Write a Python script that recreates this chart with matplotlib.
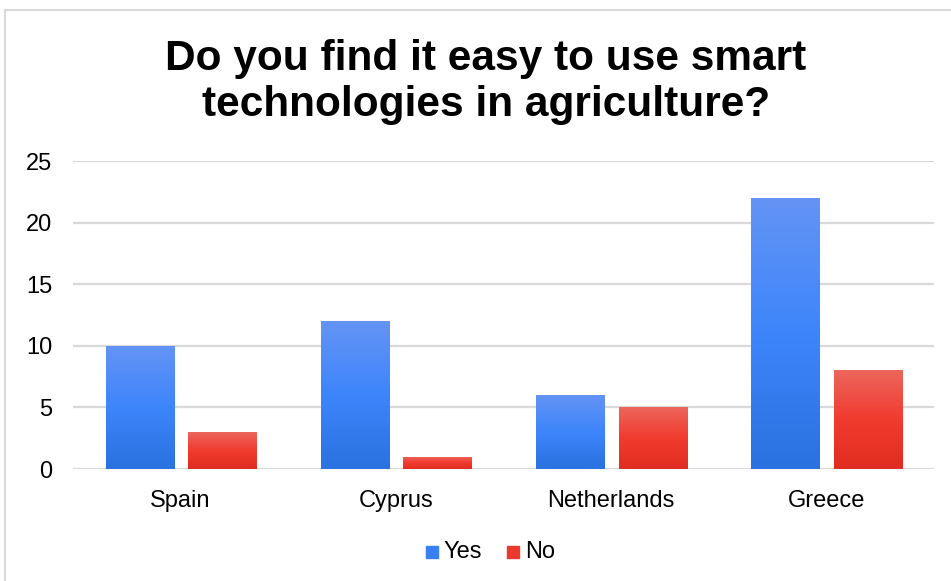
import matplotlib.pyplot as plt
from matplotlib.colors import LinearSegmentedColormap
from matplotlib.patches import Rectangle
import numpy as np

plt.rcParams['font.family'] = ['Liberation Sans', 'DejaVu Sans']

countries = ['Spain', 'Cyprus', 'Netherlands', 'Greece']
yes_vals = [10, 12, 6, 22]
no_vals = [3, 1, 5, 8]
y_ticks = [0, 5, 10, 15, 20, 25]

blue_cmap = LinearSegmentedColormap.from_list('b', ['#2a72e0', '#3d85fb', '#6494f4'])
red_cmap = LinearSegmentedColormap.from_list('r', ['#e02d1f', '#f13b2f', '#ec665c'])

fig = plt.figure(figsize=(9.51, 5.81), dpi=100)
ax = fig.add_axes([73 / 951, 1 - 469 / 581, 861 / 951, 308 / 581])

# gradient-filled bars
def grad_bar(x, h, w, cmap):
    grad = np.linspace(0, 1, 256).reshape(-1, 1)
    im = ax.imshow(grad, cmap=cmap, origin='lower', aspect='auto',
                   extent=[x - w / 2, x + w / 2, 0, h], zorder=3)
    rect = Rectangle((x - w / 2, 0), w, h, transform=ax.transData)
    im.set_clip_path(rect)

w = 0.316
xs = np.arange(len(countries))
for i in range(len(countries)):
    grad_bar(xs[i] - 0.19, yes_vals[i], w, blue_cmap)
    grad_bar(xs[i] + 0.193, no_vals[i], w, red_cmap)

ax.set_xlim(-0.5, len(countries) - 0.5)
ax.set_ylim(0, 25)
ax.set_yticks(y_ticks)
ax.set_xticks(xs)
ax.set_xticklabels(countries)
ax.tick_params(length=0, labelsize=17, colors='#000000')
ax.tick_params(axis='y', pad=15)
ax.tick_params(axis='x', pad=15)
ax.yaxis.grid(True, color='#d9d9d9', linewidth=1.6, zorder=0)
ax.set_axisbelow(True)
for s in ax.spines.values():
    s.set_visible(False)

fig.text(486 / 951, 1 - 82 / 581,
         'Do you find it easy to use smart\ntechnologies in agriculture?',
         ha='center', va='center', fontsize=30.5, fontweight='bold',
         linespacing=1.2)

# legend
lx = [426, 507]
labels = ['Yes', 'No']
cols = ['#3a80f5', '#ea3a2e']
for i in range(2):
    fig.patches.append(Rectangle((lx[i] / 951, 1 - 558 / 581), 12 / 951, 12 / 581,
                                 transform=fig.transFigure, color=cols[i]))
    fig.text((lx[i] + 18) / 951, 1 - 558 / 581, labels[i], fontsize=17,
             va='baseline', ha='left')

# chart border
fig.add_artist(plt.Line2D([5 / 951, 5 / 951], [0, 1 - 10 / 581],
                          transform=fig.transFigure, color='#d9d9d9', linewidth=1.5))
fig.add_artist(plt.Line2D([5 / 951, 1], [1 - 10 / 581, 1 - 10 / 581],
                          transform=fig.transFigure, color='#d9d9d9', linewidth=1.5))

fig.savefig('out.png', dpi=100)
